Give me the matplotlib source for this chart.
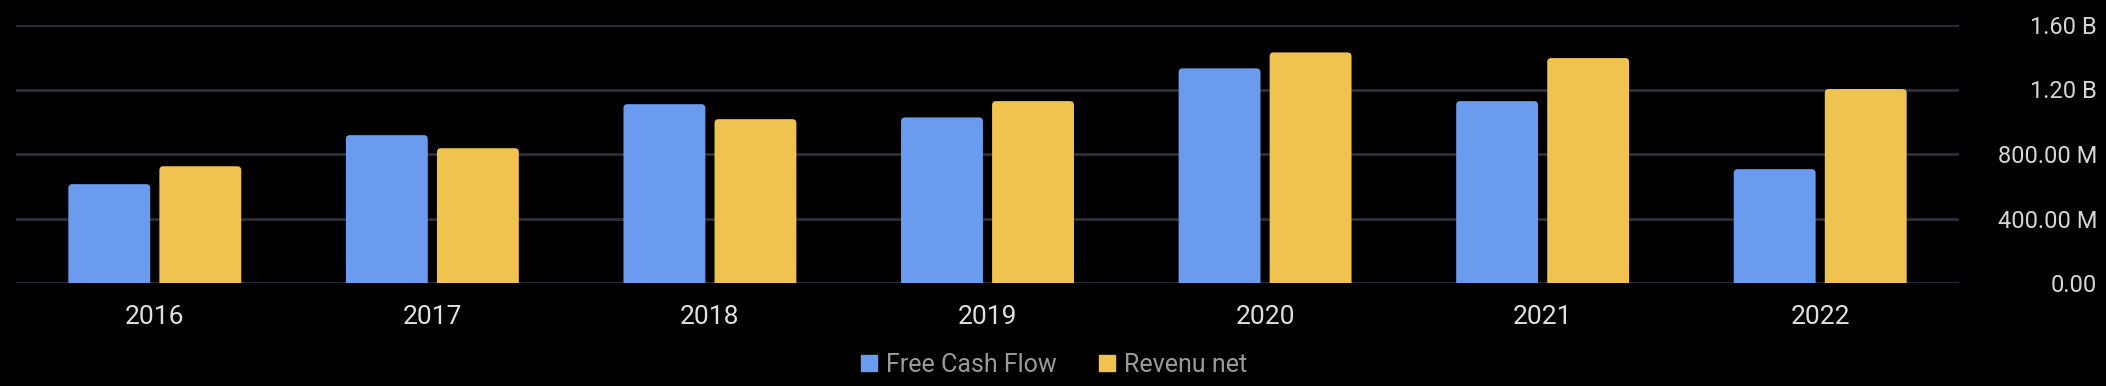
import numpy as np
import matplotlib
matplotlib.use("Agg")
import matplotlib.pyplot as plt
from matplotlib.lines import Line2D
from matplotlib.patches import FancyBboxPatch
from matplotlib.ticker import FuncFormatter

# data
years = ["2016", "2017", "2018", "2019", "2020", "2021", "2022"]
free_cash_flow = [613e6, 917e6, 1109e6, 1027e6, 1331e6, 1128e6, 706e6]
revenu_net = [724e6, 836e6, 1016e6, 1128e6, 1430e6, 1395e6, 1203e6]
yticks = [0, 400e6, 800e6, 1.2e9, 1.6e9]

blue = "#6a9bef"
yellow = "#f0c24f"
grid_col = "#2f2f3b"

plt.rcParams['font.family'] = ['Roboto', 'DejaVu Sans']

fig = plt.figure(figsize=(21.06, 3.86), dpi=100, facecolor="black")
ax = fig.add_axes([16 / 2106, 1 - 283 / 386, (1959 - 16) / 2106, (283 - 25) / 386])
ax.set_facecolor("black")

x = np.arange(len(years))
w = 0.295
off = 0.164
bars1 = ax.bar(x - off, free_cash_flow, width=w, color=blue, zorder=3)
bars2 = ax.bar(x + off, revenu_net, width=w, color=yellow, zorder=3)

ax.set_xlim(-0.5, len(years) - 0.5)
ax.set_ylim(0, 1.6e9)

# swap the plain rectangles for ones with slightly rounded tops
bbox = ax.get_position()
fig_w, fig_h = fig.get_size_inches() * fig.dpi
px_x = (len(years)) / (bbox.width * fig_w)      # data units per pixel, x
px_y = 1.6e9 / (bbox.height * fig_h)            # data units per pixel, y
radius = 4 * px_x
aspect = px_y / px_x
for rect in list(bars1) + list(bars2):
    rx, ry = rect.get_x(), rect.get_y()
    rw, rh = rect.get_width(), rect.get_height()
    rect.set_visible(False)
    ax.add_patch(FancyBboxPatch((rx, ry - 6 * px_y), rw, rh + 6 * px_y,
                                boxstyle=f"round,pad=0,rounding_size={radius}",
                                mutation_aspect=aspect, facecolor=rect.get_facecolor(),
                                edgecolor="none", zorder=3, clip_on=True))

ax.set_yticks(yticks)
ax.yaxis.grid(True, color=grid_col, linewidth=2, zorder=0)
ax.set_axisbelow(True)


def fmt(v, pos):
    if v == 0:
        return "0.00"
    if v >= 1e9:
        return f"{v / 1e9:.2f} B"
    return f"{v / 1e6:.2f} M"


ax.yaxis.set_major_formatter(FuncFormatter(fmt))
ax.yaxis.tick_right()
# pad is in points: right edge of labels near x=2097 px
ax.tick_params(axis="y", length=0, pad=(2097 - 1959) * 72 / 100,
               labelsize=17, labelcolor="#d6d6d6")
for lab in ax.get_yticklabels():
    lab.set_horizontalalignment("right")

ax.set_xticks(x)
ax.set_xticklabels(years)
ax.tick_params(axis="x", length=0, pad=16, labelsize=19, labelcolor="#e0e0e0")

for s in ax.spines.values():
    s.set_visible(False)

handles = [
    Line2D([], [], marker="s", linestyle="", color=blue, markersize=11),
    Line2D([], [], marker="s", linestyle="", color=yellow, markersize=11),
]
fig.legend(handles, ["Free Cash Flow", "Revenu net"], loc="center",
           bbox_to_anchor=(0.5, 1 - 365 / 386), ncol=2, frameon=False,
           fontsize=18, labelcolor="#9a9a9a", handletextpad=0.3,
           columnspacing=1.6, handlelength=0.8)

fig.savefig("out.png", dpi=100, facecolor="black")
